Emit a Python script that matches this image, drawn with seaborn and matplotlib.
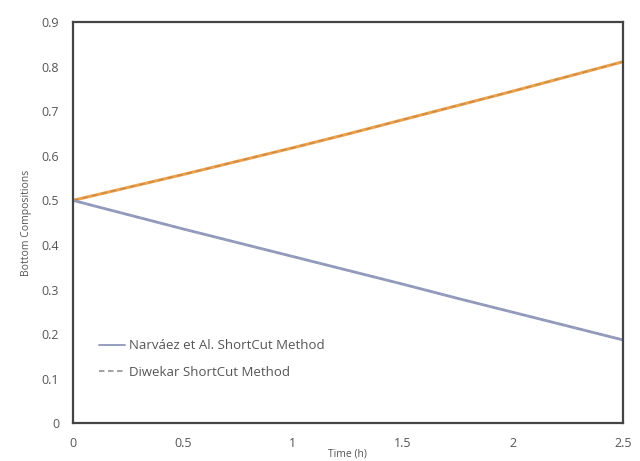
import numpy as np
import pandas as pd
import seaborn as sns
import matplotlib
matplotlib.use("Agg")
import matplotlib.pyplot as plt
from matplotlib.lines import Line2D

sns.set_theme(style="white")
plt.rcParams['font.family'] = ['Open Sans', 'DejaVu Sans']

time_h = [0.0, 0.25, 0.5, 0.75, 1.0, 1.25, 1.5, 1.75, 2.0, 2.25, 2.5]
narvaez_light = [0.500, 0.529, 0.558, 0.588, 0.618, 0.649, 0.681, 0.713, 0.745, 0.778, 0.811]
narvaez_heavy = [0.500, 0.468, 0.436, 0.405, 0.374, 0.343, 0.312, 0.280, 0.249, 0.218, 0.187]
diwekar_light = [0.500, 0.529, 0.558, 0.588, 0.618, 0.649, 0.681, 0.713, 0.745, 0.778, 0.811]
diwekar_heavy = [0.500, 0.468, 0.436, 0.405, 0.374, 0.343, 0.312, 0.280, 0.249, 0.218, 0.187]

legend_labels = ["Narváez et Al. ShortCut Method", "Diwekar ShortCut Method"]

df = pd.DataFrame({
    "t": time_h * 4,
    "x": narvaez_light + narvaez_heavy + diwekar_light + diwekar_heavy,
    "series": (["nl"] * len(time_h) + ["nh"] * len(time_h)
               + ["dl"] * len(time_h) + ["dh"] * len(time_h)),
})

fig = plt.figure(figsize=(6.4, 4.61), dpi=100)
ax = fig.add_axes([0.114, 0.082, 0.859, 0.870])

orange = "#eda24a"
blue = "#8f97bd"

sns.lineplot(data=df[df.series == "nl"], x="t", y="x", color=orange, lw=2.2, ax=ax)
sns.lineplot(data=df[df.series == "nh"], x="t", y="x", color=blue, lw=2.0, ax=ax)
sns.lineplot(data=df[df.series == "dl"], x="t", y="x", color="#c9884a", lw=1.0,
             ax=ax, linestyle=(0, (4, 3)))
sns.lineplot(data=df[df.series == "dh"], x="t", y="x", color="#9aa0b8", lw=1.0,
             ax=ax, linestyle=(0, (4, 3)))

ax.set_xlim(0, 2.5)
ax.set_ylim(0, 0.9)
ax.set_xticks([0, 0.5, 1, 1.5, 2, 2.5])
ax.set_xticklabels(["0", "0.5", "1", "1.5", "2", "2.5"])
ax.set_yticks(np.arange(0, 0.91, 0.1))
ax.set_yticklabels(["0", "0.1", "0.2", "0.3", "0.4", "0.5", "0.6", "0.7", "0.8", "0.9"])
ax.tick_params(axis="both", length=0, labelsize=9, colors="#555555", pad=10)
ax.set_xlabel("Time (h)", fontsize=7.5, color="#555555", labelpad=-1)
ax.set_ylabel("Bottom Compositions", fontsize=7.5, color="#555555", labelpad=7)

for s in ax.spines.values():
    s.set_visible(True)
    s.set_color("#444444")
    s.set_linewidth(1.6)

handles = [
    Line2D([0], [0], color=blue, lw=1.3),
    Line2D([0], [0], color="#9a9a9a", lw=1.3, linestyle=(0, (3, 2))),
]
leg = ax.legend(handles, legend_labels, loc="center left",
                bbox_to_anchor=(0.025, 0.16), frameon=False,
                fontsize=9.5, handlelength=2.0, labelspacing=1.0,
                handletextpad=0.3)
for t in leg.get_texts():
    t.set_color("#555555")

fig.savefig("out.png", dpi=100, facecolor="white")
